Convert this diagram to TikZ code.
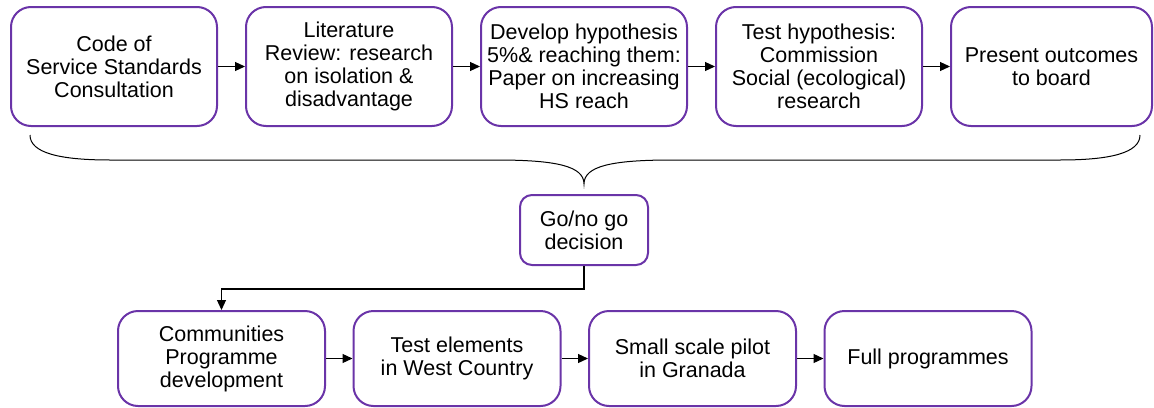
\documentclass[tikz,border=0pt]{standalone}
\usepackage{fontspec}
\setmainfont{Liberation Sans}
\usetikzlibrary{arrows.meta,calc,positioning}
\definecolor{stagepurple}{HTML}{6A34A8}

\begin{document}
\begin{tikzpicture}[x=1pt,y=1pt,
	stage/.style={draw=stagepurple,line width=2pt,rounded corners=20pt,minimum width=206pt,minimum height=119pt,align=center,inner sep=1pt,font=\fontsize{21.5}{23}\selectfont},
	lowstage/.style={stage,minimum width=207pt,minimum height=95pt},
	flow/.style={-{Triangle[length=10pt,width=9pt]},line width=1.2pt},
	node distance=27pt]
\useasboundingbox (0,0) rectangle (1154,-407);

% research phase
\node[stage,anchor=north west] (code) at (10,-6) {Code of\\Service Standards\\Consultation};
\node[stage,right=of code] (lit) {Literature\\Review: research\\on isolation \&\\disadvantage};
\node[stage,right=of lit] (hyp) {Develop hypothesis\\5\%\& reaching them:\\Paper on increasing\\HS reach};
\node[stage,right=of hyp] (test) {Test hypothesis:\\Commission\\Social (ecological)\\research};
\node[stage,right=of test,minimum width=201pt] (board) {Present outcomes\\to board};

\draw[flow] (code) -- (lit);
\draw[flow] (lit) -- (hyp);
\draw[flow] (hyp) -- (test);
\draw[flow] (test) -- (board);

% brace gathering the top row
\coordinate (bl) at ($(code.south west)+(20,-8)$);
\coordinate (br) at ($(board.south east)+(-13,-8)$);
\coordinate (tip) at ($(hyp.south)+(0,-57)$);
\draw[line width=1pt] (bl) .. controls +(0,-18) and +(-50,0) .. ($(bl)+(80,-25)$)
	-- ($(tip)+(-88,24)$) .. controls +(60,0) and +(0,18) .. (tip)
	.. controls +(0,18) and +(-60,0) .. ($(tip)+(88,24)$)
	-- ($(br)+(-80,-25)$) .. controls +(50,0) and +(0,-18) .. (br);

\node[stage,below=10pt of tip,minimum width=128pt,minimum height=70pt,rounded corners=12pt] (go) {Go/no go\\decision};

% delivery phase
\node[lowstage,anchor=north west] (comm) at (117,-310) {Communities\\Programme\\development};
\node[lowstage,right=26.5pt of comm] (west) {Test elements\\in West Country};
\node[lowstage,right=26.5pt of west] (pilot) {Small scale pilot\\in Granada};
\node[lowstage,right=26.5pt of pilot] (full) {Full programmes};

\draw[flow] (go.south) -- ++(0,-23) -| (comm.north);
\draw[flow] (comm) -- (west);
\draw[flow] (west) -- (pilot);
\draw[flow] (pilot) -- (full);

\end{tikzpicture}
\end{document}
